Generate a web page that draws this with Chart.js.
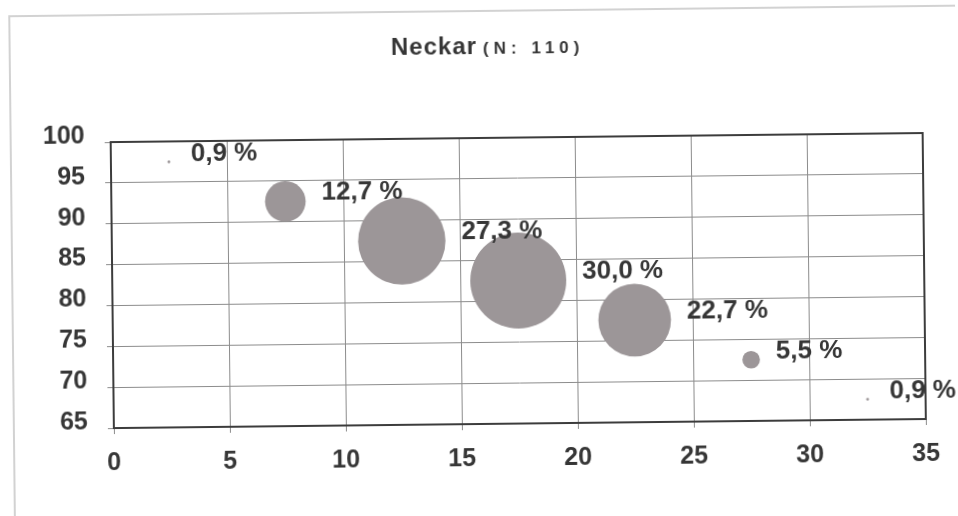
<!DOCTYPE html>
<html>
<head>
<meta charset="utf-8">
<title>Neckar (N: 110)</title>
<script src="https://cdn.jsdelivr.net/npm/chart.js@4.4.1/dist/chart.umd.min.js"></script>
<style>
    html, body { margin: 0; padding: 0; background: #fff; overflow: hidden; }
    #neckarChart { display: block; transform: rotate(-0.64deg); transform-origin: 50% 50%; }
</style>
</head>
<body>
<canvas id="neckarChart" width="958" height="516"></canvas>
<script>
// Data
const xValues = [2.5, 7.5, 12.5, 17.5, 22.5, 27.5, 32.5];
const yValues = [97.5, 92.5, 87.5, 82.5, 77.5, 72.5, 67.5];
const shares = [0.9, 12.7, 27.3, 30.0, 22.7, 5.5, 0.9];   // percent, also bubble size
const xTicks = [0, 5, 10, 15, 20, 25, 30, 35];
const yTicks = [65, 70, 75, 80, 85, 90, 95, 100];
const titleMain = 'Neckar';
const titleSub = '(N: 110)';

const FONT = '"Liberation Sans", Arial, sans-serif';
const TEXT = '#363636';

// German decimal comma
const fmt = v => v.toFixed(1).replace('.', ',') + ' %';

// light frame of the scanned page
const framePlugin = {
    id: 'frame',
    beforeDraw(chart) {
        const ctx = chart.ctx;
        ctx.save();
        ctx.strokeStyle = '#d2d2d2';
        ctx.lineWidth = 2;
        ctx.beginPath();
        ctx.moveTo(12, 520);
        ctx.lineTo(12, 11);
        ctx.lineTo(960, 11);
        ctx.stroke();
        ctx.restore();
    }
};

// title drawn in two sizes
const titlePlugin = {
    id: 'twoPartTitle',
    afterDraw(chart) {
        const ctx = chart.ctx;
        ctx.save();
        ctx.fillStyle = TEXT;
        ctx.textBaseline = 'alphabetic';
        ctx.textAlign = 'left';
        ctx.font = 'bold 24px ' + FONT;
        ctx.letterSpacing = '1px';
        const w1 = ctx.measureText(titleMain).width;
        ctx.font = 'bold 17px ' + FONT;
        ctx.letterSpacing = '5px';
        const w2 = ctx.measureText(titleSub).width;
        const gap = 6;
        let x = 490 - (w1 + gap + w2) / 2;
        ctx.font = 'bold 24px ' + FONT;
        ctx.letterSpacing = '1px';
        ctx.fillText(titleMain, x, 54);
        ctx.font = 'bold 17px ' + FONT;
        ctx.letterSpacing = '5px';
        ctx.fillText(titleSub, x + w1 + gap, 54);
        ctx.restore();
    }
};

// dark box round the plot area
const plotBorder = {
    id: 'plotBorder',
    afterDatasetsDraw(chart) {
        const a = chart.chartArea;
        const ctx = chart.ctx;
        ctx.save();
        ctx.strokeStyle = '#3c3c3c';
        ctx.lineWidth = 2;
        ctx.strokeRect(a.left, a.top, a.right - a.left, a.bottom - a.top);
        ctx.restore();
    }
};

// percentage labels right of each bubble
const bubbleLabels = {
    id: 'bubbleLabels',
    afterDatasetsDraw(chart) {
        const ctx = chart.ctx;
        const meta = chart.getDatasetMeta(0);
        ctx.save();
        ctx.font = 'bold 26px ' + FONT;
        ctx.fillStyle = TEXT;
        ctx.textAlign = 'left';
        ctx.textBaseline = 'middle';
        meta.data.forEach((el, i) => {
            const r = el.options.radius;
            ctx.fillText(fmt(shares[i]), el.x + Math.max(r, 6) + 16, el.y - 8);
        });
        ctx.restore();
    }
};

const ctx = document.getElementById('neckarChart').getContext('2d');
const neckarChart = new Chart(ctx, {
    type: 'bubble',
    data: {
        datasets: [{
            label: 'Neckar',
            data: xValues.map((x, i) => ({ x: x, y: yValues[i], r: shares[i] * 1.6 })),
            backgroundColor: '#9c9698',
            borderWidth: 0,
            hoverBorderWidth: 0,
            clip: false
        }]
    },
    options: {
        responsive: false,
        animation: false,
        events: [],
        layout: {
            autoPadding: false,
            padding: { left: 0, top: 138, right: 34, bottom: 32 }
        },
        plugins: {
            legend: { display: false },
            title: { display: false },
            tooltip: { enabled: false }
        },
        scales: {
            x: {
                type: 'linear',
                min: 0,
                max: 35,
                afterBuildTicks: axis => { axis.ticks = xTicks.map(v => ({ value: v })); },
                afterFit: axis => { axis.height = 60; },
                ticks: {
                    font: { family: FONT, size: 25, weight: 'bold' },
                    color: TEXT,
                    padding: 14,
                    maxRotation: 0
                },
                grid: { color: '#8c8c8c', lineWidth: 1, tickLength: 6 },
                border: { color: '#3c3c3c', width: 2 }
            },
            y: {
                type: 'linear',
                min: 65,
                max: 100,
                afterBuildTicks: axis => { axis.ticks = yTicks.map(v => ({ value: v })); },
                afterFit: axis => { axis.width = 112; },
                ticks: {
                    font: { family: FONT, size: 25, weight: 'bold' },
                    color: TEXT,
                    padding: 20,
                    labelOffset: -6
                },
                grid: { color: '#8c8c8c', lineWidth: 1, tickLength: 6 },
                border: { color: '#3c3c3c', width: 2 }
            }
        }
    },
    plugins: [framePlugin, plotBorder, bubbleLabels, titlePlugin]
});
</script>
</body>
</html>
